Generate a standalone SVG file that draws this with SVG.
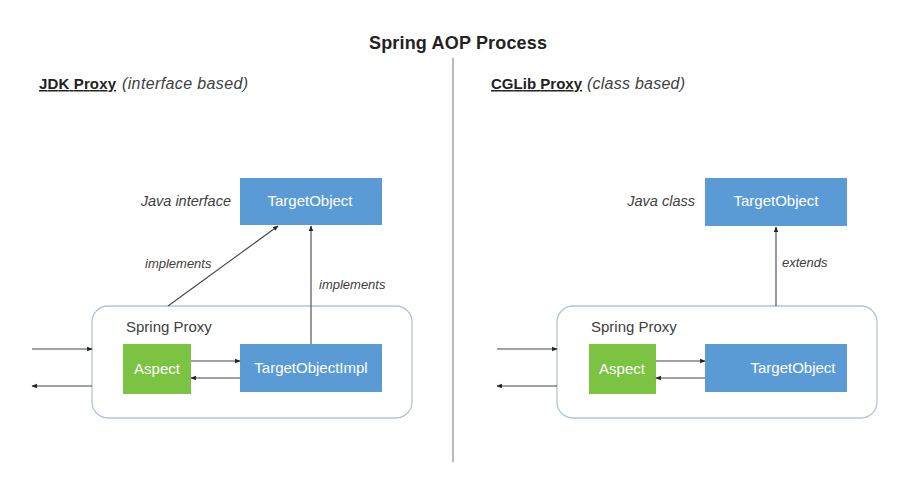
<svg xmlns="http://www.w3.org/2000/svg" width="914" height="489" viewBox="0 0 914 489">
<style>
text{font-family:"Liberation Sans",Arial,sans-serif;fill:#404040}
.title{font-size:18px;font-weight:bold;fill:#222}
.hdr{font-size:15px;font-weight:bold;fill:#222;text-decoration:underline}
.sub{font-size:16px;font-style:italic;fill:#404040}
.lbl{font-size:14.5px;font-style:italic}
.small{font-size:13px;font-style:italic}
.bt{font-size:15px;fill:#fff;text-anchor:middle}
.pl{font-size:15px}
.blue{fill:#5B9BD5}
.green{fill:#7CC243}
.proxy{fill:#fff;stroke:#AFC6D8;stroke-width:1.3}
.arr{stroke:#444;stroke-width:1.1;fill:none;marker-end:url(#ah)}
</style>
<defs>
<marker id="ah" viewBox="0 0 10 10" refX="9" refY="5" markerWidth="5" markerHeight="5" orient="auto">
<path d="M0,1 L10,5 L0,9 z" fill="#222"/>
</marker>
</defs>
<rect width="914" height="489" fill="#fff"/>
<text class="title" x="458" y="49" text-anchor="middle" textLength="178">Spring AOP Process</text>
<line x1="453" y1="58" x2="453" y2="462" stroke="#777" stroke-width="1"/>

<text x="39" y="89"><tspan class="hdr" textLength="77">JDK Proxy</tspan><tspan class="sub" x="122" textLength="126">(interface based)</tspan></text>
<text x="491" y="89"><tspan class="hdr" textLength="91">CGLib Proxy</tspan><tspan class="sub" x="587" textLength="98">(class based)</tspan></text>

<g id="left-proxy">
<rect class="proxy" x="92" y="306" width="320" height="112" rx="16"/>
<text class="pl" x="126" y="332">Spring Proxy</text>
</g>
<g id="left-target">
<rect class="blue" x="240" y="178" width="142" height="47"/>
<text class="bt" x="310" y="206">TargetObject</text>
<text class="lbl" x="231" y="206" text-anchor="end">Java interface</text>
</g>
<g id="left-aspect">
<rect class="green" x="123" y="344" width="68" height="50"/>
<text class="bt" x="157" y="374">Aspect</text>
</g>
<g id="left-impl">
<rect class="blue" x="240" y="344" width="142" height="48"/>
<text class="bt" x="311" y="373">TargetObjectImpl</text>
</g>

<g id="right-proxy">
<rect class="proxy" x="557" y="306" width="320" height="112" rx="16"/>
<text class="pl" x="591" y="332">Spring Proxy</text>
</g>
<g id="right-target">
<rect class="blue" x="705" y="178" width="142" height="48"/>
<text class="bt" x="776" y="206">TargetObject</text>
<text class="lbl" x="695" y="206" text-anchor="end">Java class</text>
</g>
<g id="right-aspect">
<rect class="green" x="589" y="344" width="67" height="50"/>
<text class="bt" x="622" y="374">Aspect</text>
</g>
<g id="right-targetobj">
<rect class="blue" x="705" y="344" width="142" height="48"/>
<text class="bt" x="793" y="373">TargetObject</text>
</g>

<g id="connectors">
<line class="arr" x1="168" y1="306" x2="278" y2="226"/>
<line class="arr" x1="311" y1="344" x2="311" y2="226"/>
<text class="small" x="145" y="268">implements</text>
<text class="small" x="319" y="289">implements</text>
<line class="arr" x1="32" y1="349" x2="92" y2="349"/>
<line class="arr" x1="92" y1="386" x2="32" y2="386"/>
<line class="arr" x1="191" y1="361" x2="240" y2="361"/>
<line class="arr" x1="240" y1="378" x2="191" y2="378"/>

<line class="arr" x1="776" y1="306" x2="776" y2="227"/>
<text class="small" x="782" y="267">extends</text>
<line class="arr" x1="497" y1="349" x2="557" y2="349"/>
<line class="arr" x1="557" y1="386" x2="497" y2="386"/>
<line class="arr" x1="656" y1="361" x2="705" y2="361"/>
<line class="arr" x1="705" y1="378" x2="656" y2="378"/>
</g>
</svg>
